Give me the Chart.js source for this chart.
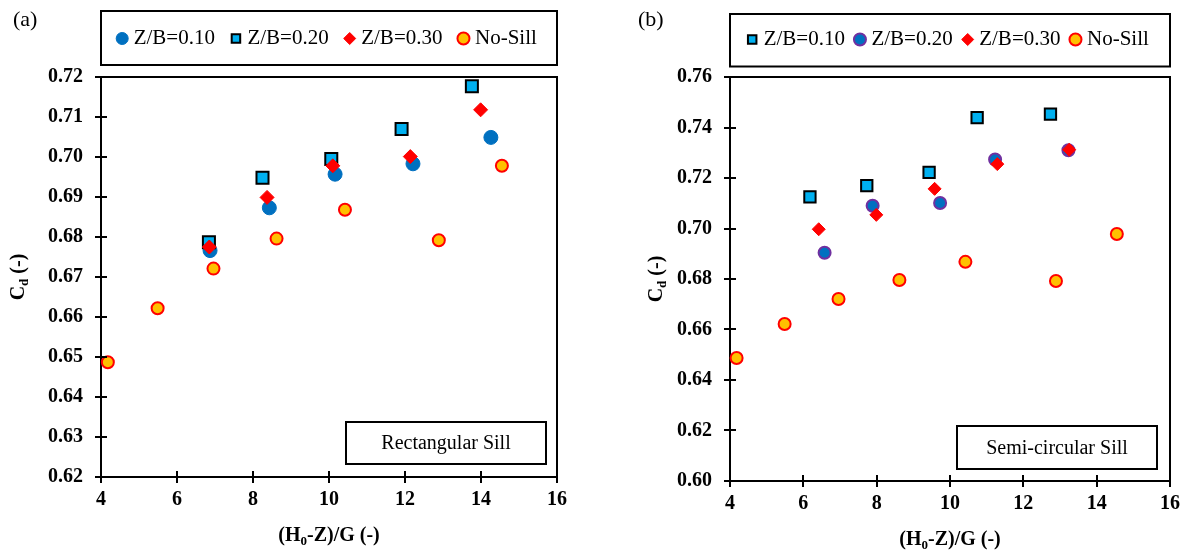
<!DOCTYPE html>
<html>
<head>
<meta charset="utf-8">
<title>Cd vs (H0-Z)/G</title>
<script src="https://cdn.jsdelivr.net/npm/chart.js@4.4.1/dist/chart.umd.min.js"></script>
<style>
  body { margin: 0; background: #fff; }
  .wrap { position: relative; width: 1191px; height: 558px; }
  .wrap canvas { position: absolute; top: 0; }
</style>
</head>
<body>
<div class="wrap">
  <canvas id="chartRect" width="600" height="558" style="left:0"></canvas>
  <canvas id="chartSemi" width="591" height="558" style="left:600px"></canvas>
</div>
<script>
// x = (H0-Z)/G, y = Cd
const seriesNames = ['Z/B=0.10', 'Z/B=0.20', 'Z/B=0.30', 'No-Sill'];

// no sill (same runs in both panels)
const noSillX  = [4.18, 5.49, 6.96, 8.62, 10.42, 12.89, 14.55];
const noSillCd = [0.6487, 0.6622, 0.6721, 0.6796, 0.6868, 0.6792, 0.6978];

// (a) rectangular sill
const rectX10  = [6.87, 8.43, 10.16, 12.21, 14.26];
const rectCd10 = [0.6766, 0.6873, 0.6957, 0.6983, 0.7049];
const rectX20  = [6.84, 8.25, 10.06, 11.91, 13.76];
const rectCd20 = [0.6787, 0.6948, 0.6995, 0.7070, 0.7177];
const rectX30  = [6.85, 8.37, 10.10, 12.14, 13.99];
const rectCd30 = [0.6775, 0.6899, 0.6978, 0.7001, 0.7118];

// (b) semi-circular sill
const semiX10  = [6.18, 7.73, 9.43, 10.74, 12.74];
const semiCd10 = [0.7125, 0.7170, 0.7222, 0.7439, 0.7453];
const semiX20  = [6.58, 7.89, 9.73, 11.23, 13.23];
const semiCd20 = [0.6904, 0.7090, 0.7101, 0.7273, 0.7310];
const semiX30  = [6.42, 7.99, 9.58, 11.29, 13.25];
const semiCd30 = [0.6997, 0.7054, 0.7157, 0.7255, 0.7312];

// axis ticks
const xTicks = [4, 6, 8, 10, 12, 14, 16];
const rectYTicks = [0.62, 0.63, 0.64, 0.65, 0.66, 0.67, 0.68, 0.69, 0.70, 0.71, 0.72];
const semiYTicks = [0.60, 0.62, 0.64, 0.66, 0.68, 0.70, 0.72, 0.74, 0.76];

const pts = (xs, ys) => xs.map((x, i) => ({ x: x, y: ys[i] }));

const serif = "'Liberation Serif', 'Times New Roman', serif";
Chart.defaults.font.family = serif;
Chart.defaults.color = '#000';

// marker styles
const blueDot   = { pointStyle: 'circle', pointRadius: 7, backgroundColor: '#0070C0', borderColor: '#0070C0', borderWidth: 1 };
const purpleDot = { pointStyle: 'circle', pointRadius: 6, backgroundColor: '#0070C0', borderColor: '#7030A0', borderWidth: 2 };
const cyanBox   = { pointStyle: 'rect', pointRadius: 8.5, backgroundColor: '#00B0F0', borderColor: '#000', borderWidth: 2 };
const redDiam   = { pointStyle: 'rectRot', pointRadius: 7, backgroundColor: '#FF0000', borderColor: '#FF0000', borderWidth: 1 };
const noSillDot = { pointStyle: 'circle', pointRadius: 6, backgroundColor: '#FFC000', borderColor: '#FF0000', borderWidth: 2 };

// draws text with subscript parts, centred on (cx, cy)
function drawRich(ctx, parts, cx, cy, size) {
  const big = 'bold ' + size + 'px ' + serif;
  const small = 'bold ' + Math.round(size * 0.65) + 'px ' + serif;
  let total = 0;
  parts.forEach(p => { ctx.font = p[1] ? small : big; total += ctx.measureText(p[0]).width; });
  let x = cx - total / 2;
  ctx.textAlign = 'left';
  ctx.textBaseline = 'alphabetic';
  parts.forEach(p => {
    ctx.font = p[1] ? small : big;
    ctx.fillText(p[0], x, cy + size * 0.34 + (p[1] ? size * 0.22 : 0));
    x += ctx.measureText(p[0]).width;
  });
}

// legend box, closed frame, inner ticks, axis titles and the sill note
const frame = {
  id: 'frame',
  beforeInit(chart) {
    const fit = chart.legend.fit;
    chart.legend.fit = function () {
      // keep all four entries on one row
      this.maxWidth += 60;
      fit.call(this);
      this.height = chart.options.plugins.frame.legendHeight;
    };
  },
  afterDraw(chart, args, opts) {
    const { ctx, chartArea: a, scales } = chart;
    ctx.save();
    ctx.strokeStyle = '#000';
    ctx.fillStyle = '#000';
    ctx.lineWidth = 2;

    ctx.strokeRect(a.left, opts.legendBox[0], a.right - a.left, opts.legendBox[1] - opts.legendBox[0]);

    ctx.beginPath();
    ctx.moveTo(a.left, a.top);
    ctx.lineTo(a.right, a.top);
    ctx.lineTo(a.right, a.bottom);
    scales.x.ticks.forEach(t => {
      const px = Math.round(scales.x.getPixelForValue(t.value));
      ctx.moveTo(px, a.bottom);
      ctx.lineTo(px, a.bottom - 6);
    });
    scales.y.ticks.forEach(t => {
      const py = Math.round(scales.y.getPixelForValue(t.value));
      ctx.moveTo(a.left, py);
      ctx.lineTo(a.left + 6, py);
    });
    ctx.stroke();

    // note box
    const [inR, inB, w, h] = opts.noteBox;
    const nx = a.right - inR - w, ny = a.bottom - inB - h;
    ctx.fillStyle = '#fff';
    ctx.fillRect(nx, ny, w, h);
    ctx.strokeRect(nx, ny, w, h);
    ctx.fillStyle = '#000';
    ctx.font = '20px ' + serif;
    ctx.textAlign = 'center';
    ctx.textBaseline = 'middle';
    ctx.fillText(opts.note, nx + w / 2, ny + h / 2 + 1);

    // panel letter
    ctx.font = '22px ' + serif;
    ctx.textAlign = 'left';
    ctx.fillText(opts.panel, opts.panelX, 20);

    // axis titles
    drawRich(ctx, [['(H'], ['0', true], ['-Z)/G (-)']], (a.left + a.right) / 2, a.bottom + 57, 20);
    ctx.translate(opts.yTitleX, (a.top + a.bottom) / 2);
    ctx.rotate(-Math.PI / 2);
    drawRich(ctx, [['C'], ['d', true], [' (-)']], 0, 0, 20);
    ctx.restore();
  }
};

function makeChart(id, datasets, yTicks, setup) {
  const ctx = document.getElementById(id).getContext('2d');
  const tickFont = { size: 20, weight: 'bold', family: serif };
  return new Chart(ctx, {
    type: 'scatter',
    data: {
      datasets: datasets.map((d, i) => Object.assign({ label: seriesNames[i], order: 4 - i, clip: false }, d))
    },
    options: {
      responsive: false,
      animation: false,
      events: [],
      layout: { padding: { top: setup.padTop, left: 0, right: setup.padRight, bottom: 0 } },
      scales: {
        x: {
          type: 'linear', min: 4, max: 16,
          afterBuildTicks: s => { s.ticks = xTicks.map(v => ({ value: v })); },
          afterFit: s => { s.height = setup.xHeight; },
          grid: { drawOnChartArea: false, tickLength: 6, color: '#000', lineWidth: 2 },
          border: { color: '#000', width: 2 },
          ticks: { font: tickFont, color: '#000', padding: 5, maxRotation: 0, callback: v => v }
        },
        y: {
          type: 'linear', min: yTicks[0], max: yTicks[yTicks.length - 1],
          afterBuildTicks: s => { s.ticks = yTicks.map(v => ({ value: v })); },
          afterFit: s => { s.width = setup.yWidth; },
          grid: { drawOnChartArea: false, tickLength: 6, color: '#000', lineWidth: 2 },
          border: { color: '#000', width: 2 },
          ticks: { font: tickFont, color: '#000', padding: 12, callback: v => v.toFixed(2) }
        }
      },
      plugins: {
        tooltip: { enabled: false },
        legend: {
          position: 'top',
          fullSize: false,
          labels: {
            usePointStyle: true,
            boxWidth: 2,
            boxHeight: 8.5,
            padding: setup.legendPad,
            color: '#000',
            font: { size: 21, family: serif },
            sort: (a, b) => a.datasetIndex - b.datasetIndex
          }
        },
        frame: setup
      }
    },
    plugins: [frame]
  });
}

// (a) rectangular sill
makeChart('chartRect', [
  Object.assign({ data: pts(rectX10, rectCd10) }, blueDot),
  Object.assign({ data: pts(rectX20, rectCd20) }, cyanBox),
  Object.assign({ data: pts(rectX30, rectCd30) }, redDiam),
  Object.assign({ data: pts(noSillX, noSillCd) }, noSillDot)
], rectYTicks, {
  padTop: 8, padRight: 43, yWidth: 101, xHeight: 81, legendHeight: 69, legendPad: 20,
  legendBox: [11, 65], noteBox: [11, 13, 200, 42], note: 'Rectangular Sill',
  panel: '(a)', panelX: 13, yTitleX: 17
});

// (b) semi-circular sill
makeChart('chartSemi', [
  Object.assign({ data: pts(semiX10, semiCd10) }, cyanBox, { pointRadius: 8 }),
  Object.assign({ data: pts(semiX20, semiCd20) }, purpleDot),
  Object.assign({ data: pts(semiX30, semiCd30) }, redDiam, { pointRadius: 6.5 }),
  Object.assign({ data: pts(noSillX, noSillCd) }, noSillDot)
], semiYTicks, {
  padTop: 15, padRight: 21, yWidth: 130, xHeight: 77, legendHeight: 62, legendPad: 14,
  legendBox: [14, 66.5], noteBox: [13, 12, 200, 43], note: 'Semi-circular Sill',
  panel: '(b)', panelX: 38, yTitleX: 55
});
</script>
</body>
</html>
